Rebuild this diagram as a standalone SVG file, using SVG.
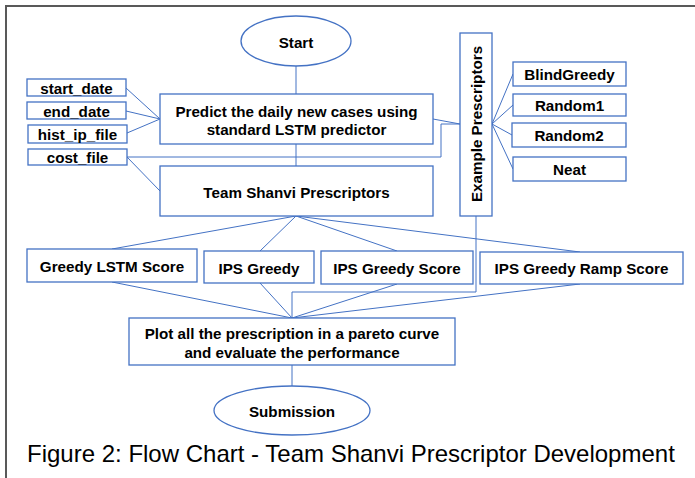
<svg xmlns="http://www.w3.org/2000/svg" width="695" height="478" viewBox="0 0 695 478">
<style>
.b{fill:#fff;stroke:#4472C4;stroke-width:1.3}
.t{font-family:"Liberation Sans",Arial,sans-serif;font-weight:bold;font-size:15.2px;fill:#000;text-anchor:middle;dominant-baseline:central}
.c{fill:none;stroke:#4472C4;stroke-width:1}
</style>
<rect x="0" y="0" width="695" height="478" fill="#fff"/>
<rect x="6" y="6" width="700" height="490" fill="none" stroke="#595959" stroke-width="2"/>
<g id="connectors">
<path class="c" d="M296,66V94M296,144V166"/>
<path class="c" d="M126,88L160,119M126,111L160,119M127,133L160,119"/>
<path class="c" d="M127,157H441V124H460M433,119L460,124M127,157L160,191"/>
<path class="c" d="M492,124L513,74M492,124L513,105M492,124L512,135M492,124L513,169"/>
<path class="c" d="M476,216V292H292V318"/>
<path class="c" d="M296,216L112,249M296,216L260,251M296,216L397,251M296,216L580,252"/>
<path class="c" d="M112,282L292,318M260,283L292,318M397,284L292,318M580,284L292,318"/>
<path class="c" d="M292,365V386"/>
</g>
<g id="start"><ellipse class="b" cx="296" cy="41" rx="55" ry="25"/><text class="t" x="296" y="42">Start</text></g>
<g id="start_date"><rect class="b" x="27" y="79" width="99" height="17"/><text class="t" x="76.5" y="88">start_date</text></g>
<g id="end_date"><rect class="b" x="27" y="102" width="99" height="17"/><text class="t" x="76.5" y="111">end_date</text></g>
<g id="hist_ip_file"><rect class="b" x="28" y="125" width="99" height="18"/><text class="t" x="77.5" y="134">hist_ip_file</text></g>
<g id="cost_file"><rect class="b" x="28" y="149" width="99" height="16"/><text class="t" x="77.5" y="157">cost_file</text></g>
<g id="predict"><rect class="b" x="160" y="94" width="273" height="50"/><text class="t" x="296.5" y="111">Predict the daily new cases using</text><text class="t" x="296.5" y="129">standard LSTM predictor</text></g>
<g id="team"><rect class="b" x="160" y="166" width="273" height="50"/><text class="t" x="296.5" y="192">Team Shanvi Prescriptors</text></g>
<g id="example"><rect class="b" x="460" y="33" width="32" height="183"/><text class="t" transform="translate(476,124) rotate(-90)" x="0" y="0">Example Prescriptors</text></g>
<g id="blindgreedy"><rect class="b" x="513" y="62" width="113" height="24"/><text class="t" x="569.5" y="74">BlindGreedy</text></g>
<g id="random1"><rect class="b" x="513" y="94" width="113" height="22"/><text class="t" x="569.5" y="105">Random1</text></g>
<g id="random2"><rect class="b" x="512" y="123" width="114" height="24"/><text class="t" x="569" y="135">Random2</text></g>
<g id="neat"><rect class="b" x="513" y="157" width="113" height="24"/><text class="t" x="569.5" y="169">Neat</text></g>
<g id="greedy_lstm"><rect class="b" x="27" y="249" width="170" height="33"/><text class="t" x="112" y="266">Greedy LSTM Score</text></g>
<g id="ips_greedy"><rect class="b" x="204" y="251" width="110" height="32"/><text class="t" x="259" y="268">IPS Greedy</text></g>
<g id="ips_greedy_score"><rect class="b" x="321" y="251" width="152" height="33"/><text class="t" x="397" y="268">IPS Greedy Score</text></g>
<g id="ips_greedy_ramp"><rect class="b" x="480" y="252" width="203" height="32"/><text class="t" x="581.5" y="268">IPS Greedy Ramp Score</text></g>
<g id="plot"><rect class="b" x="129" y="318" width="326" height="47"/><text class="t" x="292" y="333">Plot all the prescription in a pareto curve</text><text class="t" x="292" y="352">and evaluate the performance</text></g>
<g id="submission"><ellipse class="b" cx="292" cy="410.5" rx="78" ry="24.5"/><text class="t" x="292" y="411">Submission</text></g>
<text x="27" y="462" font-family="'Liberation Sans',Arial,sans-serif" font-size="24" fill="#000">Figure 2: Flow Chart - Team Shanvi Prescriptor Development</text>
</svg>
